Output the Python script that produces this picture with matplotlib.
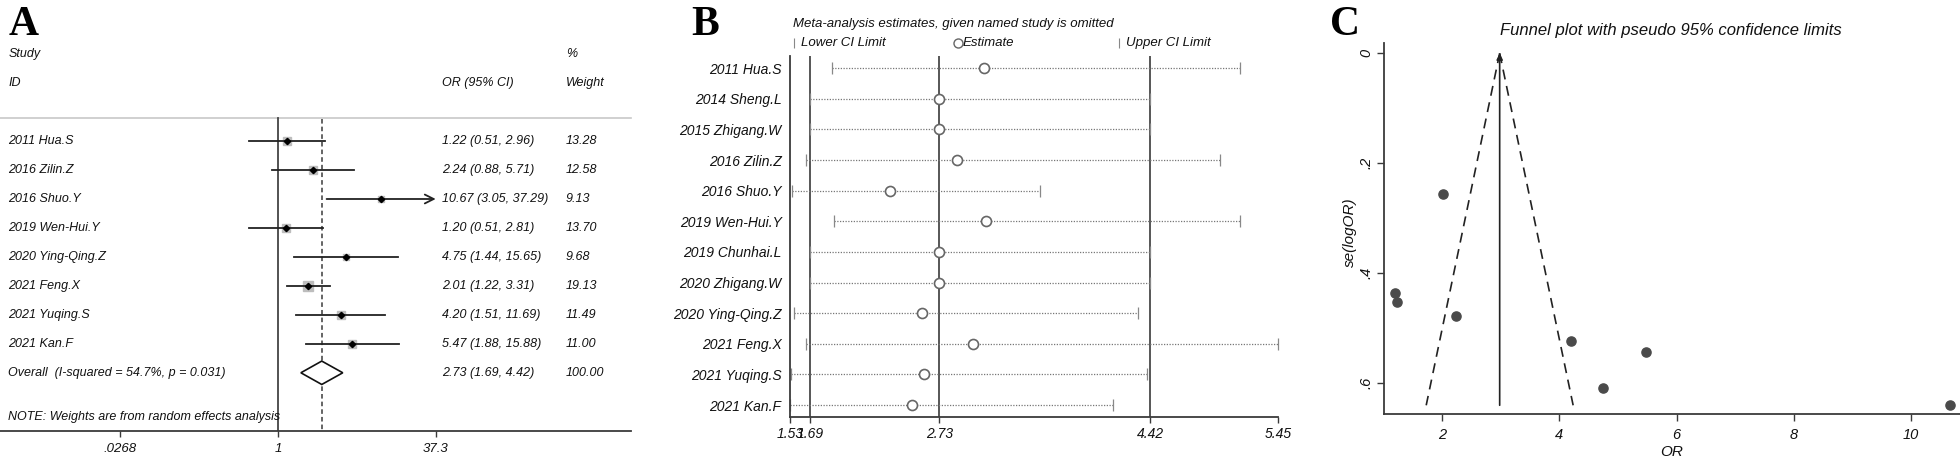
import numpy as np
import matplotlib
matplotlib.use("Agg")
import matplotlib.pyplot as plt
from matplotlib.lines import Line2D
from matplotlib.patches import Polygon
from matplotlib.transforms import blended_transform_factory

plt.rcParams['font.family'] = ['Liberation Sans', 'DejaVu Sans']
plt.rcParams['font.style'] = 'italic'

# ---- A: forest plot ----
studies_a = ["2011 Hua.S", "2016 Zilin.Z", "2016 Shuo.Y", "2019 Wen-Hui.Y",
             "2020 Ying-Qing.Z", "2021 Feng.X", "2021 Yuqing.S", "2021 Kan.F"]
or_a = [1.22, 2.24, 10.67, 1.20, 4.75, 2.01, 4.20, 5.47]
lo_a = [0.51, 0.88, 3.05, 0.51, 1.44, 1.22, 1.51, 1.88]
hi_a = [2.96, 5.71, 37.29, 2.81, 15.65, 3.31, 11.69, 15.88]
wt_a = [13.28, 12.58, 9.13, 13.70, 9.68, 19.13, 11.49, 11.00]
overall_or, overall_lo, overall_hi = 2.73, 1.69, 4.42
overall_wt = 100.00
overall_label = "Overall  (I-squared = 54.7%, p = 0.031)"
ticks_a = [0.0268, 1, 37.3]
ticklabels_a = [".0268", "1", "37.3"]

# ---- B: leave-one-out sensitivity ----
studies_b = ["2011 Hua.S", "2014 Sheng.L", "2015 Zhigang.W", "2016 Zilin.Z",
             "2016 Shuo.Y", "2019 Wen-Hui.Y", "2019 Chunhai.L", "2020 Zhigang.W",
             "2020 Ying-Qing.Z", "2021 Feng.X", "2021 Yuqing.S", "2021 Kan.F"]
est_b = [3.09, 2.73, 2.73, 2.87, 2.33, 3.10, 2.73, 2.73, 2.59, 3.00, 2.61, 2.51]
lo_b = [1.87, 1.69, 1.69, 1.66, 1.55, 1.88, 1.69, 1.69, 1.56, 1.66, 1.54, 1.53]
hi_b = [5.14, 4.42, 4.42, 4.98, 3.54, 5.14, 4.42, 4.42, 4.32, 5.45, 4.40, 4.12]
ref_b = [1.69, 2.73, 4.42]
ticks_b = [1.53, 1.69, 2.73, 4.42, 5.45]

# ---- C: funnel plot ----
or_c = [2.01, 1.20, 1.22, 2.24, 4.20, 5.47, 4.75, 10.67]
se_c = [0.255, 0.435, 0.452, 0.478, 0.523, 0.544, 0.609, 0.639]
pooled_c = 2.98
se_max_c = 0.64

W, H = 1960, 458
fig = plt.figure(figsize=(W / 100, H / 100), dpi=100)

def fx(px):
    return px / W

def fy(py):
    return 1 - py / H

txt = "#111111"
line = "#3a3a3a"

# ================= panel A =================
axA = fig.add_axes([0, fy(430.7), fx(631), (430.7 - 39.7) / H])
axA.set_xscale('log')
axA.set_xlim(np.exp(-6.379), np.exp(8.10))
axA.set_ylim(11.0, -2.5)
for s in ['top', 'right', 'left']:
    axA.spines[s].set_visible(False)
axA.spines['bottom'].set_color(line)
axA.spines['bottom'].set_linewidth(1.3)
axA.set_yticks([])
axA.set_xticks(ticks_a)
axA.set_xticklabels(ticklabels_a, fontsize=9.5, color=txt)
axA.minorticks_off()
axA.tick_params(axis='x', direction='out', length=4, width=1, color=line, pad=4.5)

trA = blended_transform_factory(axA.transAxes, axA.transData)
axA.text(8.4 / 631, -2, "Study", transform=trA, fontsize=9, va='center', color=txt)
axA.text(8.4 / 631, -1, "ID", transform=trA, fontsize=9, va='center', color=txt)
axA.text(442 / 631, -1, "OR (95% CI)", transform=trA, fontsize=9, va='center', color=txt)
axA.text(566 / 631, -2, "%", transform=trA, fontsize=9, va='center', color=txt)
axA.text(566 / 631, -1, "Weight", transform=trA, fontsize=9, va='center', color=txt)
axA.plot([0, 1], [0.216, 0.216], transform=trA, color="#c8c8c8", lw=1.2, clip_on=False)

axA.plot([1, 1], [0.216, 11], color="#444444", lw=1.3)
axA.plot([overall_or, overall_or], [0.25, 11], color=line, lw=1.1, ls=(0, (3, 2)))

for i, name in enumerate(studies_a):
    r = i + 1
    axA.text(8.4 / 631, r, name, transform=trA, fontsize=9, va='center', color=txt)
    axA.text(442 / 631, r, f"{or_a[i]:.2f} ({lo_a[i]:.2f}, {hi_a[i]:.2f})",
             transform=trA, fontsize=9, va='center', color=txt)
    axA.text(566 / 631, r, f"{wt_a[i]:.2f}", transform=trA, fontsize=9, va='center', color=txt)
    ms = 5.8 * np.sqrt(wt_a[i] / 13.28)
    axA.plot(or_a[i], r, marker='s', ms=ms, color="#bdbdbd", mec="#bdbdbd", zorder=2)
    if hi_a[i] > 30:
        axA.annotate("", xy=(hi_a[i], r), xytext=(lo_a[i], r),
                     arrowprops=dict(arrowstyle='->', color="#222222", lw=1.3,
                                     mutation_scale=16, shrinkA=0, shrinkB=0))
    else:
        axA.plot([lo_a[i], hi_a[i]], [r, r], color="#222222", lw=1.3, zorder=3)
    axA.plot(or_a[i], r, marker='D', ms=3.2, color="black", zorder=4)

r = len(studies_a) + 1
axA.text(8.4 / 631, r, overall_label, transform=trA, fontsize=9, va='center', color=txt)
axA.text(442 / 631, r, f"{overall_or:.2f} ({overall_lo:.2f}, {overall_hi:.2f})",
         transform=trA, fontsize=9, va='center', color=txt)
axA.text(566 / 631, r, f"{overall_wt:.2f}", transform=trA, fontsize=9, va='center', color=txt)
diamond = Polygon([[overall_lo, r], [overall_or, r - 0.404], [overall_hi, r], [overall_or, r + 0.404]],
                  closed=True, facecolor='white', edgecolor='#111111', lw=1.2, zorder=5)
axA.add_patch(diamond)
axA.text(8.4 / 631, 10.52, "NOTE: Weights are from random effects analysis", transform=trA,
         fontsize=9, va='center', color=txt)

# ================= panel B =================
axB = fig.add_axes([fx(789.9), fy(416.7), fx(1278.3 - 789.9), (416.7 - 56) / H])
axB.set_xlim(1.53, 5.45)
axB.set_ylim(12.38, 0.6)
for s in ['top', 'right']:
    axB.spines[s].set_visible(False)
for s in ['left', 'bottom']:
    axB.spines[s].set_color(line)
    axB.spines[s].set_linewidth(1.3)
for v in ref_b:
    axB.axvline(v, color=line, lw=1.2)
rows_b = np.arange(1, len(studies_b) + 1)
for i in range(len(studies_b)):
    axB.plot([lo_b[i], hi_b[i]], [rows_b[i]] * 2, color="#777777", lw=0.9, ls=(0, (1, 1.2)), clip_on=False)
    axB.plot([lo_b[i], hi_b[i]], [rows_b[i]] * 2, ls='none', marker='|', ms=8.5, mew=0.9,
             color="#888888", clip_on=False)
    axB.plot(est_b[i], rows_b[i], marker='o', ms=7.2, mfc='white', mec="#666666", mew=1.2,
             zorder=5, clip_on=False)
axB.set_yticks(rows_b)
axB.set_yticklabels(studies_b, fontsize=10, color=txt)
axB.tick_params(axis='y', length=0, pad=6)
axB.set_xticks(ticks_b)
axB.set_xticklabels([f"{t:.2f}" for t in ticks_b], fontsize=10, color=txt)
axB.tick_params(axis='x', direction='out', length=4, width=1, color=line, pad=3.5)

fig.text(fx(793), fy(24), "Meta-analysis estimates, given named study is omitted",
         fontsize=9.5, va='center', color=txt)
fig.add_artist(Line2D([fx(794)], [fy(42.7)], marker='|', ms=7, mew=0.8, color="#888888", ls='none'))
fig.text(fx(800.5), fy(42.7), "Lower CI Limit", fontsize=9.5, va='center', color=txt)
fig.add_artist(Line2D([fx(958)], [fy(42.7)], marker='o', ms=6.5, mfc='white', mec="#666666",
                      mew=1, ls='none'))
fig.text(fx(963), fy(42.7), "Estimate", fontsize=9.5, va='center', color=txt)
fig.add_artist(Line2D([fx(1119)], [fy(42.7)], marker='|', ms=7, mew=0.8, color="#888888", ls='none'))
fig.text(fx(1126), fy(42.7), "Upper CI Limit", fontsize=9.5, va='center', color=txt)

# ================= panel C =================
axC = fig.add_axes([fx(1384.3), fy(414.3), 1 - fx(1384.3), (414.3 - 43.3) / H])
axC.set_xlim(1.01, 10.84)
axC.set_ylim(0.6564, -0.0182)
for s in ['top', 'right']:
    axC.spines[s].set_visible(False)
for s in ['left', 'bottom']:
    axC.spines[s].set_color(line)
    axC.spines[s].set_linewidth(1.3)
se_line = np.array([0, se_max_c])
axC.plot(pooled_c - 1.96 * se_line, se_line, color="#222222", lw=1.2, ls=(0, (6, 4)))
axC.plot(pooled_c + 1.96 * se_line, se_line, color="#222222", lw=1.2, ls=(0, (6, 4)))
axC.annotate("", xy=(pooled_c, 0), xytext=(pooled_c, se_max_c),
             arrowprops=dict(arrowstyle='-|>', color="#222222", lw=1.2,
                             mutation_scale=9, shrinkA=0, shrinkB=0))
axC.plot(or_c, se_c, ls='none', marker='o', ms=6.6, color="#4a4a4a", clip_on=False, zorder=5)
axC.set_xticks([2, 4, 6, 8, 10])
axC.set_xticklabels(["2", "4", "6", "8", "10"], fontsize=10.5, color=txt)
axC.set_yticks([0, 0.2, 0.4, 0.6])
axC.set_yticklabels(["0", ".2", ".4", ".6"], fontsize=10.5, color=txt, rotation=90, va='center')
axC.tick_params(axis='both', direction='out', length=5, width=1, color=line)
axC.tick_params(axis='x', pad=5)
axC.tick_params(axis='y', pad=3)
fig.text(fx(1671), fy(30.7), "Funnel plot with pseudo 95% confidence limits",
         fontsize=12, ha='center', va='center', color=txt)
fig.text(fx(1672), fy(451.7), "OR", fontsize=11, ha='center', va='center', color=txt)
fig.text(fx(1350), fy(232), "se(logOR)", fontsize=11, ha='center', va='center',
         rotation=90, color=txt)

# panel letters
for lx, lab in [(8.4, "A"), (691, "B"), (1330, "C")]:
    fig.text(fx(lx), fy(35), lab, fontsize=30, fontweight='bold', fontstyle='normal',
             family='Liberation Serif', va='baseline', ha='left', color='black')

fig.savefig("out.png", dpi=100)
